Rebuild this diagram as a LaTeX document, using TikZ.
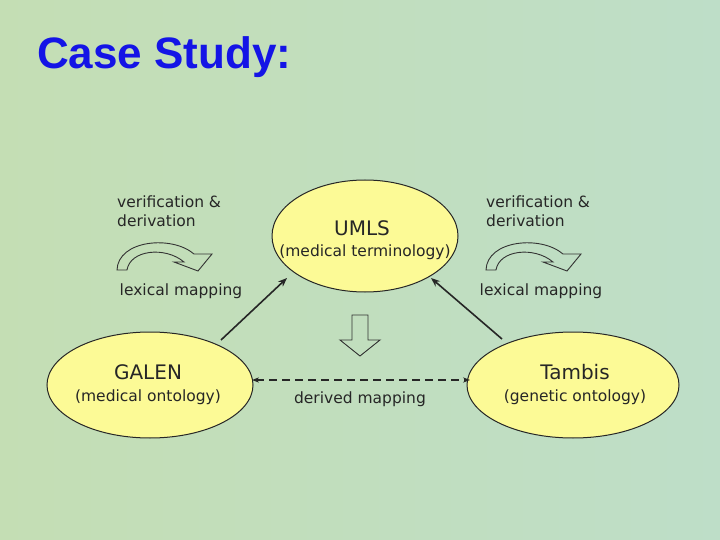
\documentclass[tikz,border=0pt]{standalone}
\usepackage{fontspec}
\setmainfont{DejaVu Sans}
\newfontfamily\titlefont{Liberation Sans}
\usetikzlibrary{arrows.meta}
\definecolor{bgA}{RGB}{196,222,180}
\definecolor{bgB}{RGB}{190,222,200}
\definecolor{ellfill}{RGB}{252,250,150}
\definecolor{titleblue}{RGB}{20,20,230}
\tikzset{
  ell/.style={draw=black!85,line width=1pt,fill=ellfill},
  lbl/.style={font=\fontsize{15.5}{19}\selectfont,text=black!85,align=left,inner sep=0pt},
  big/.style={font=\fontsize{20}{24}\selectfont,text=black!85,inner sep=0pt},
  hollow/.style={draw=black!80,line width=0.9pt,fill=none},
  link/.style={draw=black!85,line width=1.6pt,-{Stealth[length=9pt,width=7pt]}}
}
\begin{document}
\begin{tikzpicture}[x=1pt,y=-1pt]
\useasboundingbox (0,0) rectangle (720,540);
\shade[left color=bgA,right color=bgB] (0,0) rectangle (720,540);
\node[anchor=west,inner sep=0pt,font=\titlefont\bfseries\fontsize{44}{50}\selectfont,text=titleblue] (title) at (37,57) {Case Study:};
\draw[ell] (365,236) ellipse [x radius=93,y radius=56];
\coordinate (umls) at (365,236);
\node[big] (u1) at (362,228) {UMLS};
\node[lbl] (u2) at (365,252) {(medical terminology)};
\draw[ell] (150,385) ellipse [x radius=103,y radius=53];
\node[big] (g1) at (148,372) {GALEN};
\node[lbl] (g2) at (148,397) {(medical ontology)};
\draw[ell] (573,385) ellipse [x radius=106,y radius=53];
\node[big] (t1) at (575,372) {Tambis};
\node[lbl] (t2) at (575,397) {(genetic ontology)};
\coordinate (ga) at (221,340);
\coordinate (ua) at (287,278);
\coordinate (ta) at (502,339);
\coordinate (ub) at (431,278);
\draw[link] (ga) -- (ua);
\draw[link] (ta) -- (ub);
\coordinate (dl) at (252,380);
\coordinate (dr) at (470,380);
\draw[draw=black!85,line width=1.2pt,dash pattern=on 8pt off 5pt,{Stealth[length=7pt]}-{Stealth[length=7pt]}] (dl) -- (dr);
\node[lbl] (dm) at (360,399) {derived mapping};
\node[lbl,anchor=north west] (lv) at (117,196) {verification \&\\derivation};
\node[lbl,anchor=north west] (rv) at (486,196) {verification \&\\derivation};
\node[lbl] (ll) at (181,291) {lexical mapping};
\node[lbl] (rl) at (541,291) {lexical mapping};
\foreach \dx in {0,369}{
\draw[hollow,xshift=\dx] (117,270) .. controls (118,240) and (172,235) .. (194,254) -- (212,254) -- (198,271) -- (174,262) -- (184,262) .. controls (165,246) and (130,250) .. (127,270) -- cycle;
}
\draw[hollow] (352,315) -- (368,315) -- (368,340) -- (380,340) -- (360,356) -- (340,340) -- (352,340) -- cycle;
\end{tikzpicture}
\end{document}
